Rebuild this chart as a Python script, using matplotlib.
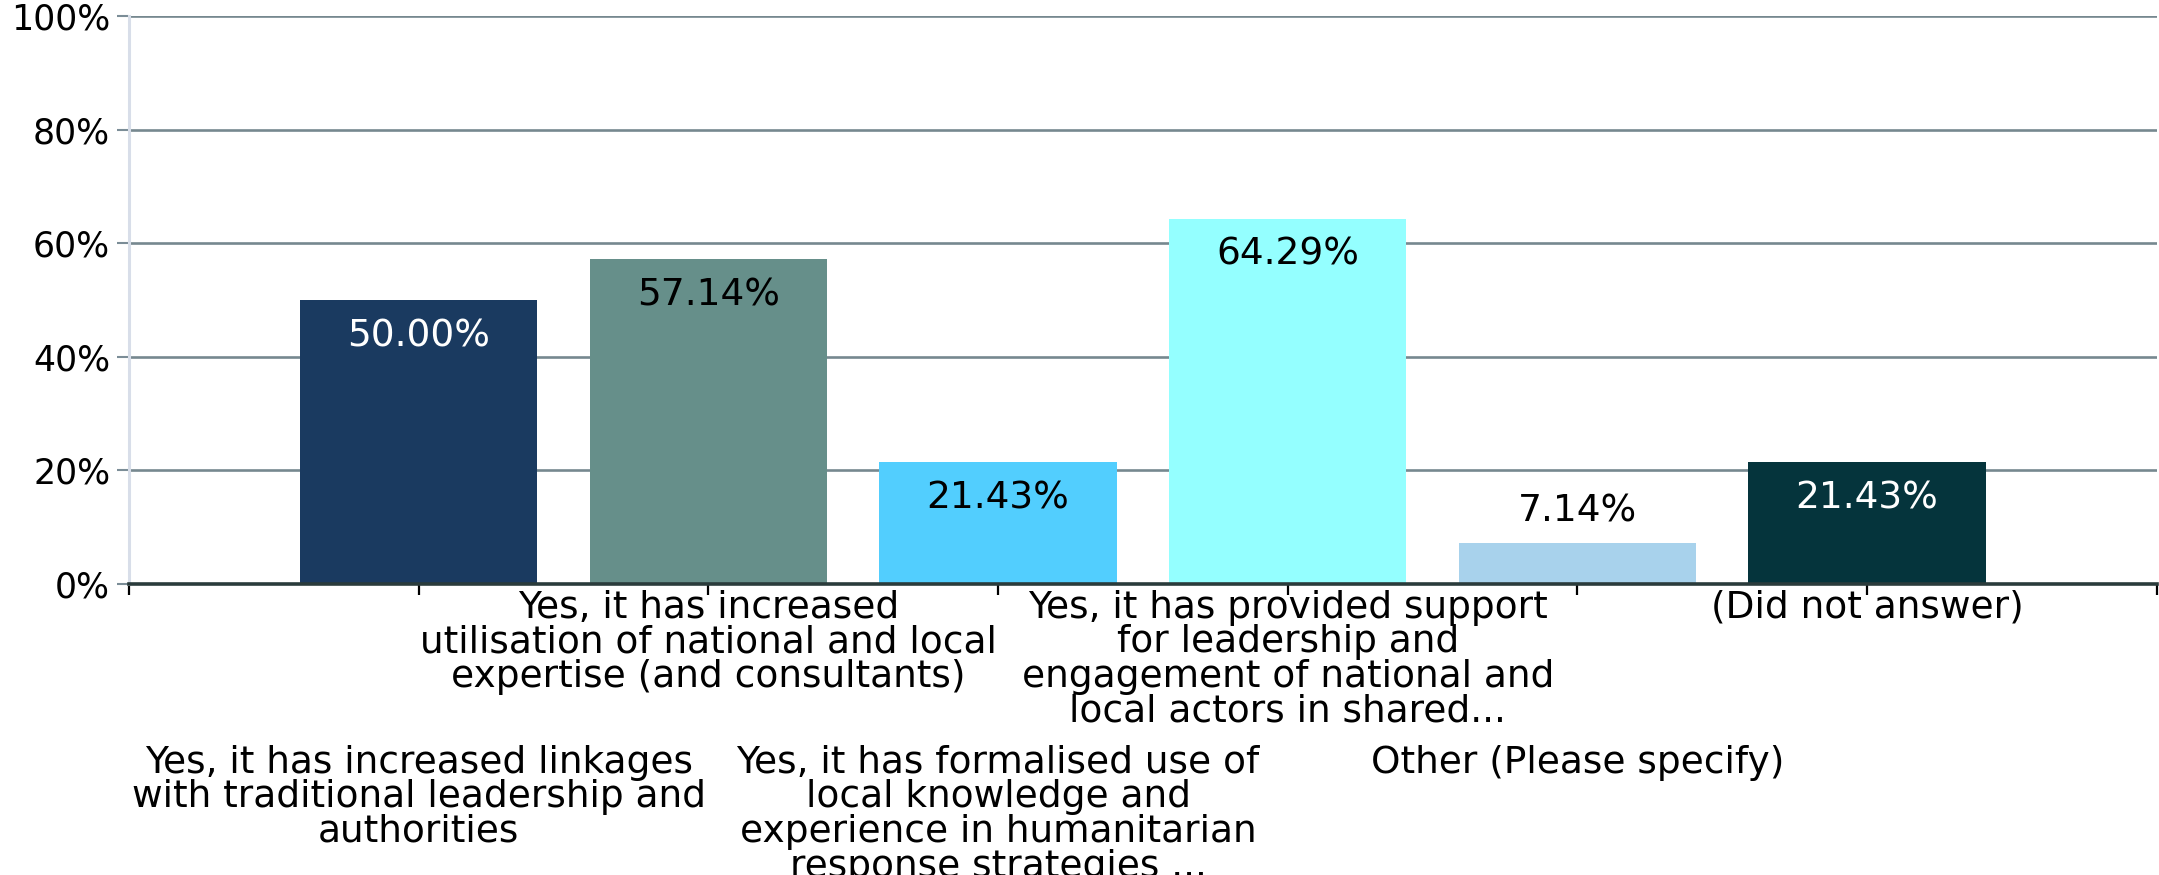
import numpy as np
import matplotlib
matplotlib.use("Agg")
from matplotlib import pyplot as plt

categories = [
    "Yes, it has increased linkages\nwith traditional leadership and\nauthorities",
    "Yes, it has increased\nutilisation of national and local\nexpertise (and consultants)",
    "Yes, it has formalised use of\nlocal knowledge and\nexperience in humanitarian\nresponse strategies ...",
    "Yes, it has provided support\nfor leadership and\nengagement of national and\nlocal actors in shared...",
    "Other (Please specify)",
    "(Did not answer)",
]
values = [50.00, 57.14, 21.43, 64.29, 7.14, 21.43]
bar_colors = ["#1a3a60", "#668f8a", "#52cefe", "#94ffff", "#a8d2ec", "#05343c"]
label_colors = ["white", "black", "black", "black", "black", "white"]
y_ticks = [0, 20, 40, 60, 80, 100]

plt.rcParams['font.family'] = ['DejaVu Sans']
fs = 27

fig = plt.figure(figsize=(21.59, 8.75), dpi=100)
ax = fig.add_axes([0.0597, 0.3326, 0.9393, 0.6491])

x = np.arange(1, len(values) + 1)
ax.bar(x, values, width=0.82, color=bar_colors, zorder=3)

ax.set_xlim(0, len(values) + 1)
ax.set_ylim(0, 100)

# gridlines and axes styling
ax.set_yticks(y_ticks)
ax.set_yticklabels([f"{t}%" for t in y_ticks], fontsize=25)
ax.yaxis.grid(True, color="#76888f", linewidth=1.9, zorder=0)
ax.tick_params(axis="y", length=8.5, width=1.5, color="#7b8d97", pad=5)
ax.set_xticks(np.arange(0, len(values) + 2))
ax.set_xticklabels([])
ax.tick_params(axis="x", length=8, width=1.6, color="black")

for side in ["top", "right"]:
    ax.spines[side].set_visible(False)
ax.spines["left"].set_color("#d8dee9")
ax.spines["left"].set_linewidth(2.2)
ax.spines["bottom"].set_color("#2a3b3b")
ax.spines["bottom"].set_linewidth(2.6)
ax.spines["bottom"].set_zorder(4)

# category labels, alternating rows
for i, (xi, cat) in enumerate(zip(x, categories)):
    ypos = -0.010 if i % 2 == 1 else -0.283
    ax.text(xi, ypos, cat, transform=ax.get_xaxis_transform(), ha="center",
            va="top", fontsize=fs, linespacing=0.95, multialignment="center")

# value labels
for xi, v, c in zip(x, values, label_colors):
    off = 23 if v < 10 else -26
    ax.annotate(f"{v:.2f}%", (xi, v), xytext=(0, off), textcoords="offset points",
                ha="center", va="center", fontsize=fs, color=c, zorder=5)

fig.savefig("out.png", dpi=100)
